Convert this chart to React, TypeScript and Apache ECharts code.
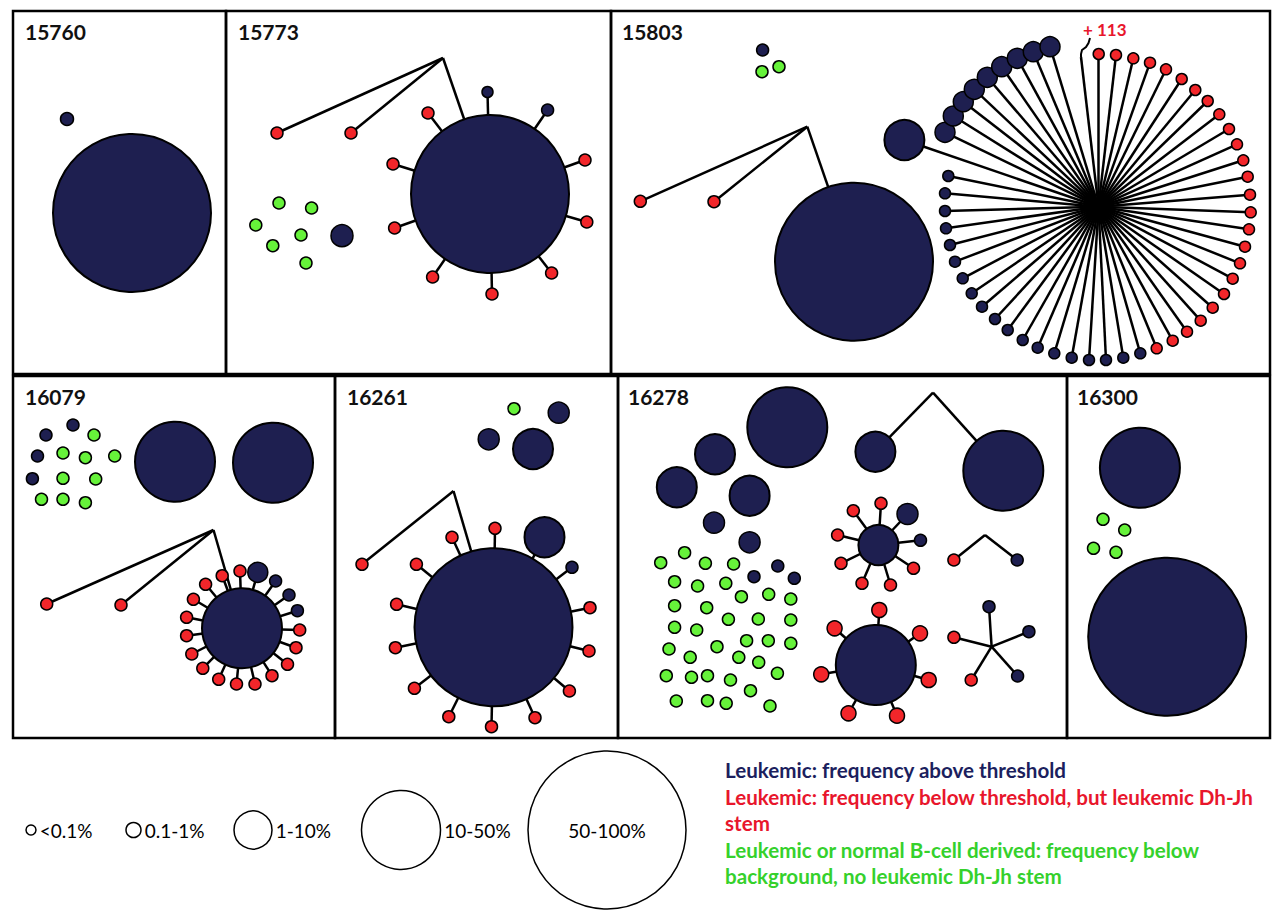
import React, { useEffect, useRef } from "react";
import * as echarts from "echarts";

type Node = [number, number, number, string];
type Pt = number[];

// ---------- panels ----------
const panelBoxes = [
  [13, 11, 226, 374], [226, 11, 611, 374], [611, 11, 1270, 374],
  [13, 376, 335, 738], [335, 376, 618, 738], [618, 376, 1067, 738], [1067, 376, 1270, 738],
];
const panelTitles = ["15760", "15773", "15803", "16079", "16261", "16278", "16300"];
const titleAnchors = [[25, 31], [238, 31], [622, 31], [25, 396], [347, 396], [628, 396], [1077, 396]];

// ---------- 15760 ----------
const p15760Free: Node[] = [[67, 119, 13, "N"], [132, 213, 158, "N"]];

// ---------- 15773 ----------
const p15773Hub: Pt = [443, 58];
const p15773Main: Node = [490, 194, 158, "N"];
const p15773Branch: Node[] = [[277, 133, 12, "R"], [351, 133, 12, "R"], p15773Main];
const p15773Spokes: Node[] = [
  [487.5, 92, 11, "N"], [547.6, 110, 12, "N"], [428, 113, 12, "R"], [393, 164, 12, "R"], [585, 160, 12, "R"],
  [394.6, 228, 12, "R"], [586.8, 222, 12, "R"], [432.6, 277, 12, "R"], [551.6, 273, 12, "R"], [492, 294, 12, "R"],
];
const p15773Free: Node[] = [
  [279, 203, 12, "G"], [311.6, 208, 12, "G"], [255.8, 225, 12, "G"], [301, 235, 12, "G"],
  [272.8, 245.7, 12, "G"], [306, 263, 12, "G"], [342, 235.7, 22, "N"],
];

// ---------- 15803 ----------
const p15803Free: Node[] = [[762.6, 50, 12, "N"], [762, 71.7, 12, "G"], [779, 66.7, 12, "G"]];
const p15803Hub: Pt = [807.3, 126.7];
const p15803Main: Node = [854, 261.7, 158, "N"];
const p15803Branch: Node[] = [[640.3, 201.3, 12, "R"], [714, 201.7, 12, "R"], p15803Main];
const p15803StarCenter: Pt = [1098.5, 206.7];
const p15803Side: Node[] = [[904.4, 140, 40, "N"]];
const p15803RingLarge: Node[] = [
  [945, 132.3, 20, "N"], [953.3, 116, 20, "N"], [963.3, 101.7, 20, "N"], [974.3, 89.3, 20, "N"], [987.3, 77.3, 20, "N"],
  [1001.7, 66.7, 20, "N"], [1017.3, 58.3, 20, "N"], [1033.3, 51.7, 20, "N"], [1050, 46.7, 20, "N"],
];
const p15803RingRed: Node[] = [
  [1098.7, 54, 11, "R"], [1116, 55, 11, "R"], [1133.3, 58.3, 11, "R"], [1150, 62.7, 11, "R"], [1166, 69.3, 11, "R"],
  [1181.7, 79, 11, "R"], [1195.3, 90, 11, "R"], [1207.7, 101, 11, "R"], [1219.3, 114.3, 11, "R"], [1229, 129, 11, "R"],
  [1237, 144.3, 11, "R"], [1243.3, 160.3, 11, "R"], [1247.7, 176.7, 11, "R"], [1250, 194.7, 11, "R"], [1250.7, 212.3, 11, "R"],
  [1249, 229.3, 11, "R"], [1245, 246.7, 11, "R"], [1240, 263.3, 11, "R"], [1232.7, 278.7, 11, "R"], [1224, 294, 11, "R"],
  [1212.7, 307.7, 11, "R"], [1200.7, 320.7, 11, "R"], [1187, 331.7, 11, "R"], [1172.7, 340.7, 11, "R"], [1156.7, 348.3, 11, "R"],
];
const p15803RingNavy: Node[] = [
  [1140.3, 353.3, 11, "N"], [1123.3, 357.7, 11, "N"], [1106, 360, 11, "N"], [1089, 360, 11, "N"], [1071.7, 357.7, 11, "N"],
  [1054.3, 353.3, 11, "N"], [1037.7, 347.7, 11, "N"], [1022.7, 340, 11, "N"], [1007.7, 330, 11, "N"], [995, 319, 11, "N"],
  [982, 306.7, 11, "N"], [971.7, 293.3, 11, "N"], [962.7, 278.3, 11, "N"], [955, 261.7, 11, "N"], [950, 245, 11, "N"],
  [946, 228.3, 11, "N"], [945, 211, 11, "N"], [945, 193.3, 11, "N"], [948.3, 176, 11, "N"],
];
const p15803HiddenEnd: Pt = [1081, 57];
const p15803Brace: Pt[] = [[1090, 38], [1088.5, 43], [1086, 47], [1082, 50], [1081, 54], [1081, 57]];
const p15803Extra = "+ 113";

// ---------- 16079 ----------
const p16079Free: Node[] = [
  [73, 425, 12, "N"], [46, 435, 12, "N"], [37.5, 456, 12, "N"], [32.4, 478.7, 12, "N"],
  [94, 435, 12, "G"], [63, 453, 12, "G"], [85.4, 457.7, 12, "G"], [114.7, 456, 12, "G"], [63, 478.3, 12, "G"],
  [95.7, 479, 12, "G"], [41.5, 499.3, 12, "G"], [63, 499.3, 12, "G"], [85.4, 502.7, 12, "G"],
  [175, 461.7, 80, "N"], [273, 462.7, 80, "N"],
];
const p16079Hub: Pt = [213.5, 530];
const p16079Main: Node = [242, 628.3, 80, "N"];
const p16079Branch: Node[] = [[46.7, 604, 12, "R"], [121, 605, 12, "R"], p16079Main];
const p16079Spokes: Node[] = [
  [257.8, 572.3, 20, "N"], [275.6, 581, 12, "N"], [289, 595, 12, "N"], [297.4, 610.7, 12, "N"],
  [299.7, 630, 12, "R"], [296, 647.7, 12, "R"], [287.5, 664.3, 12, "R"], [272, 675.7, 12, "R"], [255, 684, 12, "R"],
  [236.5, 684, 12, "R"], [218.7, 679.3, 12, "R"], [202.8, 668.3, 12, "R"], [191.8, 654, 12, "R"], [186.6, 635.7, 12, "R"],
  [186.6, 617.3, 12, "R"], [193.4, 599.3, 12, "R"], [205.6, 584.3, 12, "R"], [222.2, 575.7, 12, "R"], [240, 571, 12, "R"],
];

// ---------- 16261 ----------
const p16261Free: Node[] = [[514, 408.7, 12, "G"], [558.7, 412.7, 21, "N"], [488.7, 439.3, 21, "N"], [533, 449, 40, "N"]];
const p16261Hub: Pt = [453.5, 491];
const p16261Main: Node = [493.5, 627.3, 158, "N"];
const p16261Branch: Node[] = [[362, 564.3, 12, "R"], p16261Main];
const p16261Spokes: Node[] = [
  [544.5, 537.3, 40, "N"], [572, 567.3, 12, "N"],
  [452, 537.3, 12, "R"], [495, 528.3, 12, "R"], [416.4, 564.3, 12, "R"], [396.6, 604.3, 12, "R"], [395.4, 647.7, 12, "R"],
  [414.4, 688.3, 12, "R"], [448.8, 716.7, 12, "R"], [491.5, 726.7, 12, "R"], [535, 717.7, 12, "R"], [569.4, 691, 12, "R"],
  [589, 651, 12, "R"], [590, 607.7, 12, "R"],
];

// ---------- 16278 ----------
const p16278Free: Node[] = [
  [787.3, 427.3, 80, "N"], [715, 454.3, 40, "N"], [676.8, 487.3, 40, "N"], [749.6, 495.7, 40, "N"],
  [714, 522.7, 21, "N"], [749.6, 542.3, 21, "N"],
  [777.8, 566, 12, "N"], [754, 576.7, 12, "N"], [794.3, 578.3, 12, "N"],
  [660.7, 562.7, 12, "G"], [684.6, 552.7, 12, "G"], [705.4, 563.3, 12, "G"], [733.6, 564, 12, "G"], [674.6, 581.7, 12, "G"],
  [697.6, 586, 12, "G"], [725.8, 583.3, 12, "G"], [741.4, 596.7, 12, "G"], [768.7, 594.3, 12, "G"], [790.8, 599, 12, "G"],
  [674.6, 605.7, 12, "G"], [706.7, 607.7, 12, "G"], [728.4, 619.3, 12, "G"], [758.3, 619, 12, "G"], [790.8, 620, 12, "G"],
  [674.6, 627.3, 12, "G"], [696.7, 630, 12, "G"], [669, 649, 12, "G"], [717, 646.7, 12, "G"], [746.6, 640.7, 12, "G"],
  [768.3, 640.7, 12, "G"], [790.8, 643.3, 12, "G"], [690.2, 657.3, 12, "G"], [738.8, 657.3, 12, "G"], [758.7, 662.3, 12, "G"],
  [666.3, 675.7, 12, "G"], [691.5, 677.3, 12, "G"], [707.5, 675.7, 12, "G"], [730.5, 680, 12, "G"], [777.4, 673.3, 12, "G"],
  [750.5, 690.7, 12, "G"], [676.3, 701, 12, "G"], [707.5, 700.7, 12, "G"], [726.2, 703.3, 12, "G"], [770, 706, 12, "G"],
];
const p16278PairHub: Pt = [933, 392.7];
const p16278Pair: Node[] = [[875.4, 451.7, 40, "N"], [1003.3, 470.7, 80, "N"]];
const p16278StarA: Node = [878.4, 545, 40, "N"];
const p16278StarALeaves: Node[] = [
  [881, 503.3, 12, "R"], [907.5, 514, 21, "N"], [920.5, 540.3, 12, "N"], [913.5, 568.3, 12, "R"], [890.5, 585, 12, "R"],
  [862, 583.3, 12, "R"], [841, 563.3, 12, "R"], [837.6, 535, 12, "R"], [853.3, 510.7, 12, "R"],
];
const p16278SmallHub: Pt = [985, 535];
const p16278SmallLeaves: Node[] = [[953.9, 560, 12, "R"], [1017.2, 560, 12, "N"]];
const p16278StarB: Node = [875.8, 665, 80, "N"];
const p16278StarBLeaves: Node[] = [
  [879.3, 610, 15, "R"], [920, 633.3, 15, "R"], [928.7, 680, 15, "R"], [897, 715.7, 15, "R"],
  [848.5, 713.3, 15, "R"], [821.2, 674.3, 15, "R"], [834.6, 628.3, 15, "R"],
];
const p16278StarCHub: Pt = [991.6, 646.7];
const p16278StarCLeaves: Node[] = [
  [989, 606.7, 12, "N"], [1028.9, 631.7, 12, "N"], [1017.6, 676, 12, "N"], [971.2, 680, 12, "R"], [953.9, 637.3, 12, "R"],
];

// ---------- 16300 ----------
const p16300Free: Node[] = [
  [1139.9, 467.7, 80, "N"], [1103, 519.3, 12, "G"], [1124.7, 530, 12, "G"], [1093.5, 548.3, 12, "G"],
  [1116, 552.3, 12, "G"], [1167.2, 636.7, 158, "N"],
];

// ---------- legend ----------
const sizeLabels = ["<0.1%", "0.1-1%", "1-10%", "10-50%", "50-100%"];
const sizeDiameters = [10, 15, 38, 79, 158];
const sizeCentersX = [31, 133.5, 253, 401, 607];
const legendLines = [
  "Leukemic: frequency above threshold",
  "Leukemic: frequency below threshold, but leukemic Dh-Jh",
  "stem",
  "Leukemic or normal B-cell derived: frequency below",
  "background, no leukemic Dh-Jh stem",
];
const legendLineKinds = ["N", "R", "R", "G", "G"];

// ---------- links (hub -> leaves) ----------
const groups: [Pt, Node[]][] = [
  [p15773Hub, p15773Branch],
  [p15773Main, p15773Spokes],
  [p15803Hub, p15803Branch],
  [p15803StarCenter, [...p15803Side, ...p15803RingLarge, ...p15803RingRed, ...p15803RingNavy]],
  [p16079Hub, p16079Branch],
  [p16079Main, p16079Spokes],
  [p16261Hub, p16261Branch],
  [p16261Main, p16261Spokes],
  [p16278PairHub, p16278Pair],
  [p16278StarA, p16278StarALeaves],
  [p16278SmallHub, p16278SmallLeaves],
  [p16278StarB, p16278StarBLeaves],
  [p16278StarCHub, p16278StarCLeaves],
];
const freeSets: Node[][] = [p15760Free, p15773Free, p15803Free, p16079Free, p16261Free, p16278Free, p16300Free];

const FILL: Record<string, string> = { N: "#1e1f50", R: "#f2262a", G: "#66f23a" };
const TEXT: Record<string, string> = { N: "#1c1f5e", R: "#e8162c", G: "#35d12c" };

export default function App() {
  const ref = useRef<HTMLDivElement>(null);
  useEffect(() => {
    if (!ref.current) return;
    const chart = echarts.init(ref.current, undefined, { renderer: "svg" });

    const seen = new Set<any>();
    const nodes: Node[] = [];
    const add = (n: any) => {
      if (n.length === 4 && !seen.has(n)) { seen.add(n); nodes.push(n as Node); }
    };
    freeSets.forEach((s) => s.forEach(add));
    groups.forEach(([h, leaves]) => { leaves.forEach(add); add(h); });

    const linkData: any[] = [];
    groups.forEach(([h, leaves]) => {
      leaves.forEach((l) => linkData.push({ coords: [[h[0], h[1]], [l[0], l[1]]] }));
    });
    linkData.push({ coords: [[p15803StarCenter[0], p15803StarCenter[1]], p15803HiddenEnd] });

    const nodeData = nodes.map((n) => ({
      value: [n[0], n[1]],
      symbolSize: n[2],
      itemStyle: { color: FILL[n[3]], opacity: 1, borderColor: "#000", borderWidth: n[2] > 30 ? 2 : 1.5 },
    }));

    const legendData = sizeLabels.map((lab, i) => ({
      value: [sizeCentersX[i], 830],
      symbolSize: sizeDiameters[i],
      name: lab,
      label: {
        show: true,
        formatter: lab,
        position: i === sizeLabels.length - 1 ? "inside" : "right",
        distance: 3,
        color: "#000",
        fontFamily: "Lato",
        fontSize: 19,
      },
    }));

    const graphics: any[] = [];
    panelTitles.forEach((t, i) => {
      graphics.push({
        type: "text",
        x: titleAnchors[i][0],
        y: titleAnchors[i][1],
        style: { text: t, fill: "#111", font: "bold 21px Lato", verticalAlign: "middle" },
      });
    });
    graphics.push({
      type: "text",
      x: 1083,
      y: 29,
      style: { text: p15803Extra, fill: "#e8162c", font: "bold 17px Lato", verticalAlign: "middle" },
    });
    const lineYs = [770, 797, 823, 850, 876];
    legendLines.forEach((t, i) => {
      graphics.push({
        type: "text",
        x: 725,
        y: lineYs[i],
        style: { text: t, fill: TEXT[legendLineKinds[i]], font: "bold 20.6px Lato", verticalAlign: "middle" },
      });
    });

    chart.setOption({
      animation: false,
      backgroundColor: "#fff",
      grid: { left: 0, right: 0, top: 0, bottom: 0 },
      xAxis: { type: "value", min: 0, max: 1280, show: false },
      yAxis: { type: "value", min: 0, max: 920, inverse: true, show: false },
      graphic: graphics,
      series: [
        {
          type: "custom",
          coordinateSystem: "cartesian2d",
          silent: true,
          z: 5,
          data: panelBoxes,
          encode: { x: [0, 2], y: [1, 3] },
          renderItem: (params: any, api: any) => {
            const p0 = api.coord([api.value(0), api.value(1)]);
            const p1 = api.coord([api.value(2), api.value(3)]);
            return {
              type: "rect",
              shape: { x: p0[0], y: p0[1], width: p1[0] - p0[0], height: p1[1] - p0[1] },
              style: { fill: "none", stroke: "#000", lineWidth: 2.5 },
            };
          },
        },
        {
          type: "lines",
          coordinateSystem: "cartesian2d",
          silent: true,
          z: 2,
          data: linkData,
          lineStyle: { color: "#000", width: 2.5, opacity: 1, curveness: 0 },
        },
        {
          type: "lines",
          coordinateSystem: "cartesian2d",
          polyline: true,
          silent: true,
          z: 2,
          data: [{ coords: p15803Brace }],
          lineStyle: { color: "#000", width: 2, opacity: 1 },
        },
        {
          type: "scatter",
          silent: true,
          z: 3,
          symbol: "circle",
          data: nodeData,
        },
        {
          type: "scatter",
          silent: true,
          z: 3,
          symbol: "circle",
          itemStyle: { color: "#fff", opacity: 1, borderColor: "#000", borderWidth: 1.5 },
          data: legendData,
        },
      ],
    });
    return () => chart.dispose();
  }, []);
  return (
    <div
      ref={ref}
      style={{ position: "absolute", left: 0, top: 0, width: 1280, height: 920, background: "#fff" }}
    />
  );
}
